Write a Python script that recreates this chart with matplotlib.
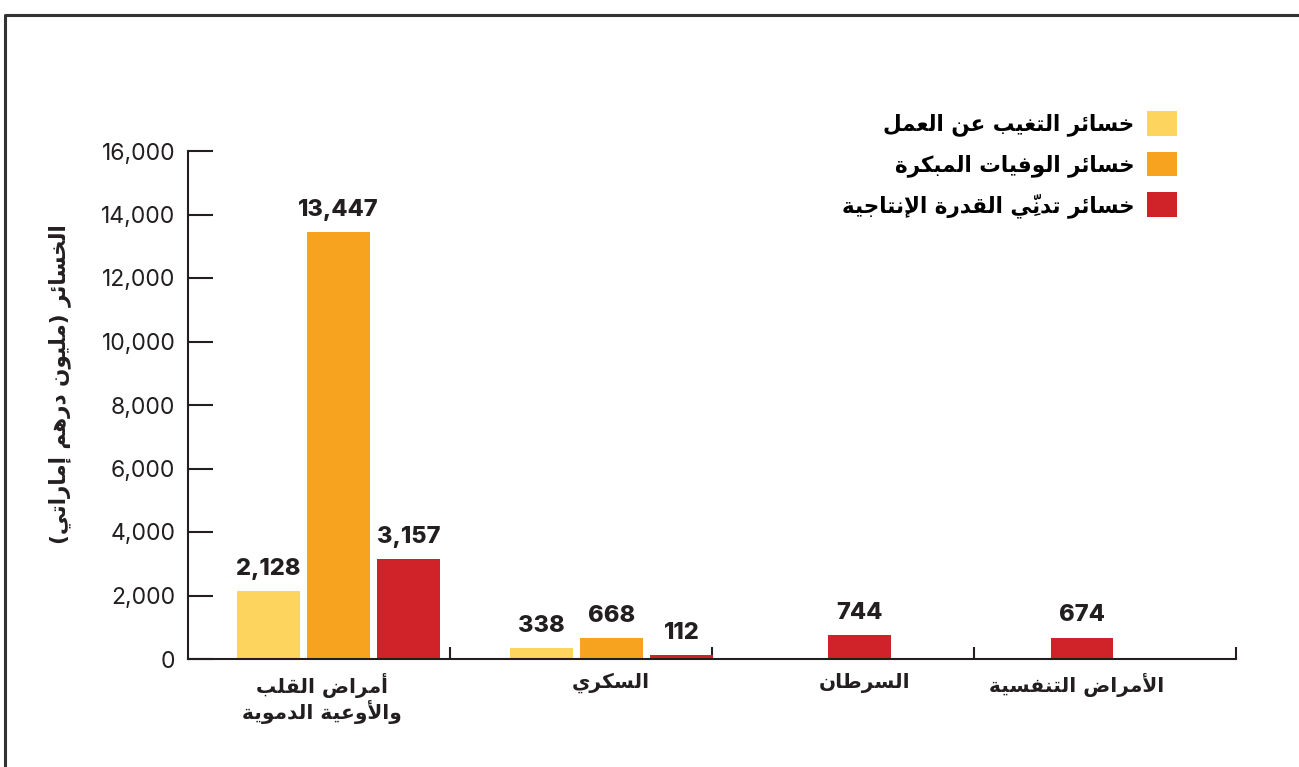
import numpy as np
import matplotlib
matplotlib.use("Agg")
import matplotlib.pyplot as plt
from matplotlib.lines import Line2D
from matplotlib.ticker import FuncFormatter

# data (million AED)
categories = ["أمراض القلب\nوالأوعية الدموية", "السكري", "السرطان", "الأمراض التنفسية"]
series_names = ["خسائر التغيب عن العمل", "خسائر الوفيات المبكرة", "خسائر تدنِّي القدرة الإنتاجية"]
absence = [2128, 338, np.nan, np.nan]
premature_death = [13447, 668, np.nan, np.nan]
productivity = [3157, 112, 744, 674]
y_ticks = [0, 2000, 4000, 6000, 8000, 10000, 12000, 14000, 16000]
y_label = "الخسائر (مليون درهم إماراتي)"

colors = ["#FDD55E", "#F7A31F", "#D02229"]
ink = "#231F20"
num_font = ["Inter", "DejaVu Sans"]

# --- tiny arabic shaper: matplotlib draws glyphs left to right with no joining,
# so map letters to presentation forms and reverse to visual order
FORMS = {
    "\u0627": ("\uFE8D", "\uFE8E"), "\u0623": ("\uFE83", "\uFE84"), "\u0625": ("\uFE87", "\uFE88"),
    "\u062F": ("\uFEA9", "\uFEAA"), "\u0631": ("\uFEAD", "\uFEAE"), "\u0648": ("\uFEED", "\uFEEE"),
    "\u0629": ("\uFE93", "\uFE94"),
    "\u0628": ("\uFE8F", "\uFE90", "\uFE91", "\uFE92"), "\u062A": ("\uFE95", "\uFE96", "\uFE97", "\uFE98"),
    "\u062C": ("\uFE9D", "\uFE9E", "\uFE9F", "\uFEA0"), "\u062E": ("\uFEA5", "\uFEA6", "\uFEA7", "\uFEA8"),
    "\u0633": ("\uFEB1", "\uFEB2", "\uFEB3", "\uFEB4"), "\u0636": ("\uFEBD", "\uFEBE", "\uFEBF", "\uFEC0"),
    "\u0637": ("\uFEC1", "\uFEC2", "\uFEC3", "\uFEC4"), "\u0639": ("\uFEC9", "\uFECA", "\uFECB", "\uFECC"),
    "\u063A": ("\uFECD", "\uFECE", "\uFECF", "\uFED0"), "\u0641": ("\uFED1", "\uFED2", "\uFED3", "\uFED4"),
    "\u0642": ("\uFED5", "\uFED6", "\uFED7", "\uFED8"), "\u0643": ("\uFED9", "\uFEDA", "\uFEDB", "\uFEDC"),
    "\u0644": ("\uFEDD", "\uFEDE", "\uFEDF", "\uFEE0"), "\u0645": ("\uFEE1", "\uFEE2", "\uFEE3", "\uFEE4"),
    "\u0646": ("\uFEE5", "\uFEE6", "\uFEE7", "\uFEE8"), "\u0647": ("\uFEE9", "\uFEEA", "\uFEEB", "\uFEEC"),
    "\u064A": ("\uFEF1", "\uFEF2", "\uFEF3", "\uFEF4"), "\u0626": ("\uFE89", "\uFE8A", "\uFE8B", "\uFE8C"),
    "\u0644\u0627": ("\uFEFB", "\uFEFC"), "\u0644\u0623": ("\uFEF7", "\uFEF8"), "\u0644\u0625": ("\uFEF9", "\uFEFA"),
}
MARKS = set("\u064B\u064C\u064D\u064E\u064F\u0650\u0651\u0652")
MIRROR = {"(": ")", ")": "("}


def shape_line(text):
    clusters = []
    for ch in text:
        if ch in MARKS and clusters:
            clusters[-1][1] += ch
        else:
            clusters.append([ch, ""])
    merged = []
    i = 0
    while i < len(clusters):
        ch, mk = clusters[i]
        if ch == "\u0644" and i + 1 < len(clusters) and ch + clusters[i + 1][0] in FORMS:
            merged.append([ch + clusters[i + 1][0], mk + clusters[i + 1][1]])
            i += 2
        else:
            merged.append([ch, mk])
            i += 1
    out = []
    for i, (ch, mk) in enumerate(merged):
        if ch not in FORMS:
            out.append(mk + MIRROR.get(ch, ch))
            continue
        f = FORMS[ch]
        prev = merged[i - 1][0] if i > 0 else None
        nxt = merged[i + 1][0] if i + 1 < len(merged) else None
        p = prev in FORMS and len(FORMS[prev]) == 4
        n = len(f) == 4 and nxt in FORMS
        if p and n:
            g = f[3]
        elif p:
            g = f[1]
        elif n:
            g = f[2]
        else:
            g = f[0]
        # zero-width marks are drawn from the pen position, so put them before the base
        out.append(mk + g)
    return "".join(out[::-1])


def ar(text):
    return "\n".join(shape_line(t) for t in text.split("\n"))


fig = plt.figure(figsize=(12.99, 7.67), dpi=100)
ax = fig.add_axes([188 / 1299, 1 - 659 / 767, 1048 / 1299, 508 / 767])

# slot layout: groups with three series vs. a single red bar
centres = [0.574, 1.616, 2.563, 3.412]
step = 0.267
width = 0.24
full = [not np.isnan(a) for a in absence]
label_pos = [0.511, 1.615, 2.584, 3.393]

for j, (vals, col, name) in enumerate(zip([absence, premature_death, productivity], colors, series_names)):
    xs = [c + (j - 1) * step if f else c for c, f in zip(centres, full)]
    ax.bar(xs, vals, width=width, color=col, label=ar(name), zorder=2)
    for x, v in zip(xs, vals):
        if np.isnan(v):
            continue
        ax.annotate(f"{int(v):,}", (x, v), xytext=(0, 8), textcoords="offset points",
                    ha="center", va="bottom", fontsize=17, fontweight="heavy",
                    family=num_font, color=ink)

ax.set_xlim(0, 4)
ax.set_ylim(0, 16000)
ax.set_yticks(y_ticks)
ax.yaxis.set_major_formatter(FuncFormatter(lambda v, p: f"{int(v):,}"))
ax.tick_params(axis="y", direction="in", length=18, width=1.5, color=ink, pad=9,
               labelsize=16.5, labelcolor=ink)
for t in ax.get_yticklabels():
    t.set_family(num_font)

ax.set_xticks(label_pos)
ax.set_xticklabels([ar(c) for c in categories], fontsize=14.5, fontweight="bold",
                   family="DejaVu Sans", color=ink, linespacing=1.1)
ax.tick_params(axis="x", which="major", length=0, pad=10)
ax.set_xticks([1, 2, 3, 4], minor=True)
ax.tick_params(axis="x", which="minor", direction="in", length=9, width=1.5, color=ink)

for s in ["top", "right"]:
    ax.spines[s].set_visible(False)
for s in ["left", "bottom"]:
    ax.spines[s].set_color(ink)
    ax.spines[s].set_linewidth(1.5)

fig.text(60 / 1299, 1 - 384 / 767, ar(y_label), rotation=90, ha="center", va="center",
         fontsize=15.5, fontweight="bold", family="DejaVu Sans", color=ink)

fig.legend(loc="upper right", bbox_to_anchor=(1177 / 1299, 1 - 111 / 767), frameon=False,
           markerfirst=False, borderpad=0, borderaxespad=0, handlelength=1.38, handleheight=1.38,
           handletextpad=0.6, labelspacing=0.72,
           prop={"family": "DejaVu Sans", "weight": "bold", "size": 15.5})

# outer frame (top and left edges)
fig.add_artist(Line2D([5 / 1299, 5 / 1299, 1], [0, 1 - 15 / 767, 1 - 15 / 767],
                      transform=fig.transFigure, color="#333333", lw=2.2))

fig.savefig("out.png", dpi=100)
